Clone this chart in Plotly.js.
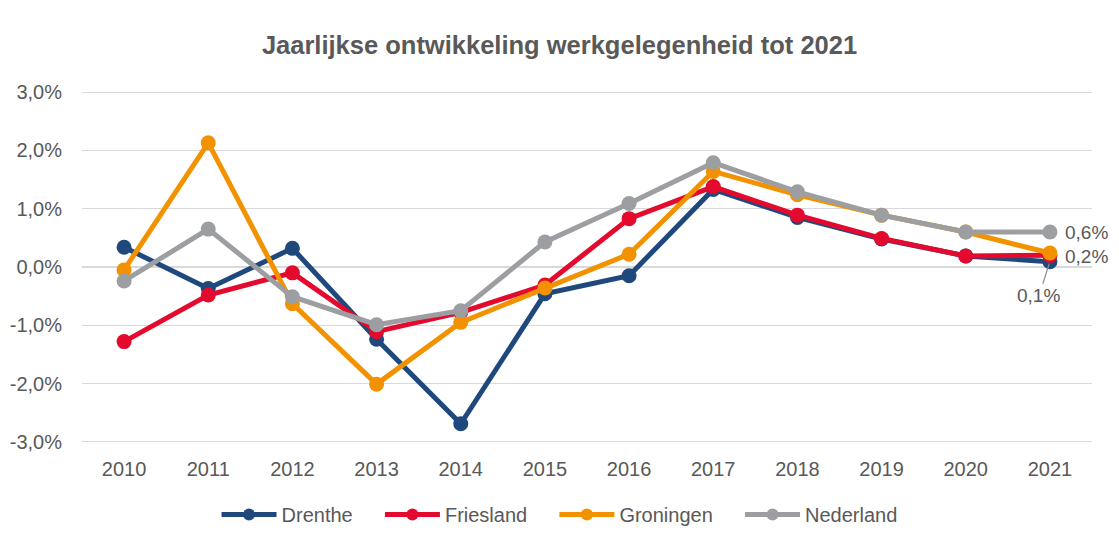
<!DOCTYPE html>
<html>
<head>
<meta charset="utf-8">
<script src="https://cdn.plot.ly/plotly-3.0.1.min.js"></script>
<style>html,body{margin:0;padding:0;background:#fff;}#chart{width:1119px;height:546px;}</style>
</head>
<body>
<div id="chart"></div>
<script>
const years = ['2010','2011','2012','2013','2014','2015','2016','2017','2018','2019','2020','2021'];
const drenthe   = [0.34, -0.37, 0.32, -1.24, -2.69, -0.46, -0.15, 1.33, 0.85, 0.48, 0.19, 0.09];
const friesland = [-1.28, -0.48, -0.10, -1.11, -0.78, -0.31, 0.83, 1.38, 0.89, 0.49, 0.19, 0.20];
const groningen = [-0.05, 2.13, -0.63, -2.01, -0.95, -0.36, 0.22, 1.64, 1.24, 0.89, 0.60, 0.24];
const nederland = [-0.24, 0.65, -0.51, -0.99, -0.75, 0.43, 1.09, 1.79, 1.29, 0.89, 0.60, 0.60];
const yTicks = [-3, -2, -1, 0, 1, 2, 3];
const yTickText = ['-3,0%', '-2,0%', '-1,0%', '0,0%', '1,0%', '2,0%', '3,0%'];

const series = [
  {name: 'Drenthe', y: drenthe, color: '#1f497d'},
  {name: 'Friesland', y: friesland, color: '#e30a2e'},
  {name: 'Groningen', y: groningen, color: '#f39200'},
  {name: 'Nederland', y: nederland, color: '#9c9ea1'}
];

const gap = '\u00a0\u00a0\u00a0\u00a0';
const traces = series.map((s, i) => ({
  type: 'scatter', mode: 'lines+markers',
  name: s.name + (i < series.length - 1 ? gap : ''),
  x: years.map((_, j) => j), y: s.y,
  line: {color: s.color, width: 5},
  marker: {color: s.color, size: 15},
  cliponaxis: false
}));

const fmt = v => v.toFixed(1).replace('.', ',') + '%';
const last = years.length - 1;
const family = '"Liberation Sans", Arial, sans-serif';
const font = {family: family, size: 20, color: '#595959'};
const lblFont = {family: family, size: 19, color: '#595959'};

const annotations = [
  {x: last, y: nederland[last], text: fmt(nederland[last]), showarrow: false, xanchor: 'left', xshift: 13, font: lblFont},
  {x: last, y: friesland[last], text: fmt(friesland[last]), showarrow: false, xanchor: 'left', xshift: 13, yshift: -1, font: lblFont},
  {x: last, y: drenthe[last], text: fmt(drenthe[last]), showarrow: true, arrowhead: 0, arrowwidth: 1.2, arrowcolor: '#8c8c8c',
   ax: -11, ay: 34, standoff: 2, font: lblFont}
];

const layout = {
  width: 1119, height: 546,
  margin: {l: 82, r: 27, t: 91, b: 101},
  paper_bgcolor: '#ffffff', plot_bgcolor: '#ffffff',
  title: {text: '<b>Jaarlijkse ontwikkeling werkgelegenheid tot 2021</b>', x: 0.5, xanchor: 'center', y: 0.917, yanchor: 'middle',
          font: {family: family, size: 25.5, color: '#595959'}},
  font: font,
  xaxis: {type: 'linear', range: [-0.5, 11.5], tickvals: years.map((_, j) => j), ticktext: years,
          showgrid: false, zeroline: false, showline: false, ticks: '',
          tickfont: font, ticklabelstandoff: 12, fixedrange: true},
  yaxis: {range: [-3.02, 3.02], tickvals: yTicks, ticktext: yTickText, showgrid: true, gridcolor: '#d9d9d9', gridwidth: 1.3,
          zeroline: false, showline: false, ticks: '', tickfont: font, ticklabelstandoff: 19, fixedrange: true},
  legend: {orientation: 'h', x: 0.4728, xanchor: 'center', y: -0.203, yanchor: 'middle', font: font,
           itemwidth: 55, itemsizing: 'constant'},
  annotations: annotations,
  showlegend: true
};

Plotly.newPlot('chart', traces, layout, {displayModeBar: false, staticPlot: true});
</script>
</body>
</html>
